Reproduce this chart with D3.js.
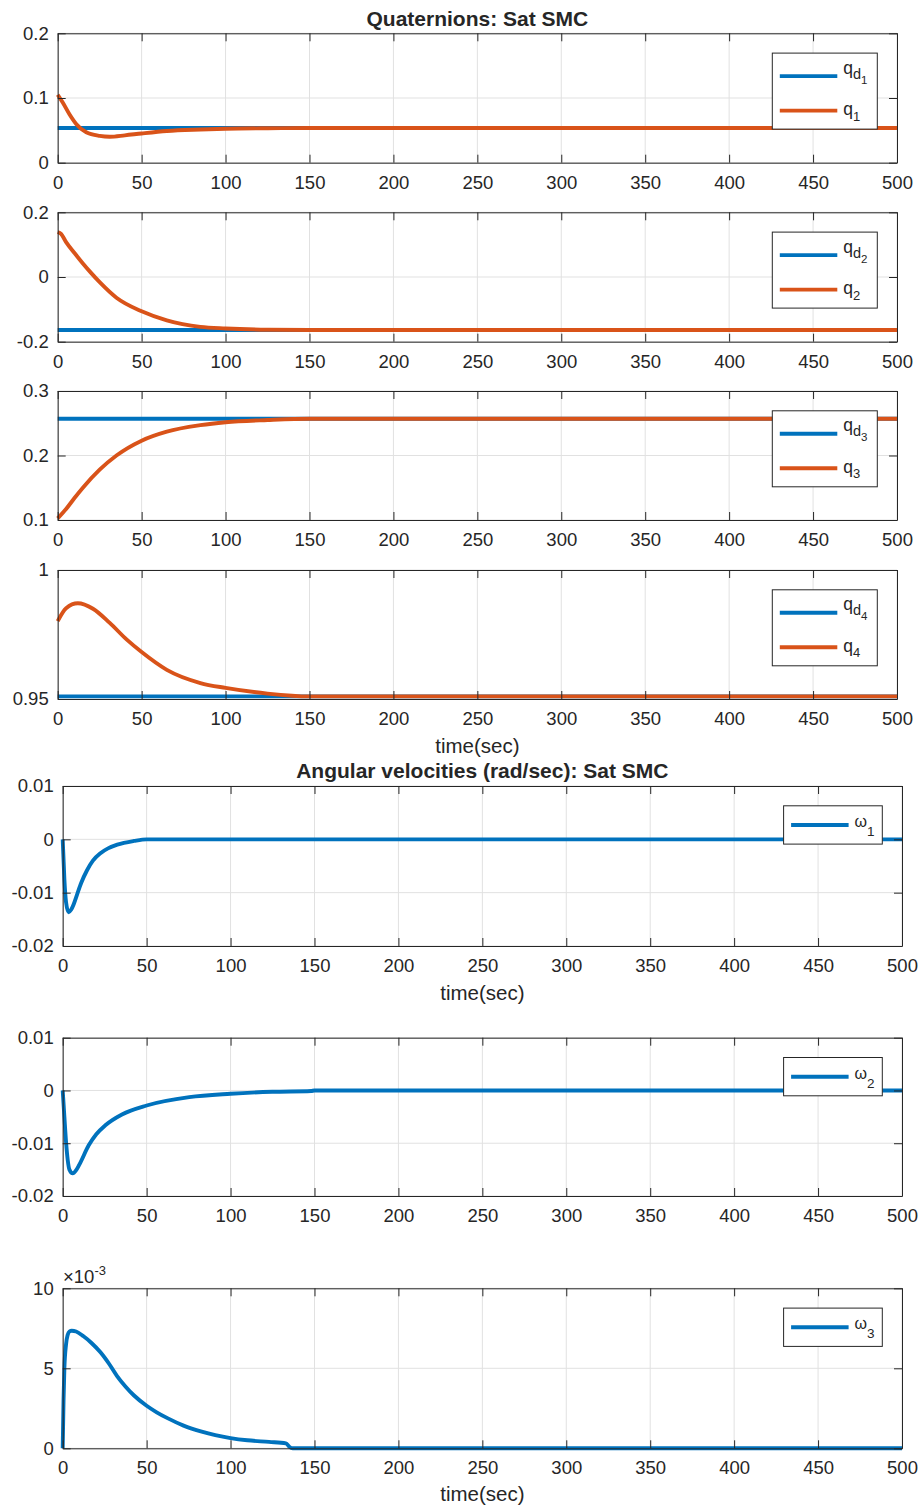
<!DOCTYPE html>
<html>
<head>
<meta charset="utf-8">
<script src="https://cdn.jsdelivr.net/npm/d3@7"></script>
<style>
  body { margin: 0; background: #fff; }
  svg { display: block; }
  text { font-family: "Liberation Sans", Arial, Helvetica, sans-serif; fill: #262626; }
</style>
</head>
<body>
<svg id="fig" width="921" height="1510"></svg>
<script>
// ---------- data ----------
const timeTicks = [0, 50, 100, 150, 200, 250, 300, 350, 400, 450, 500];
const tDesired = [0, 500];

// quaternion 1
const qd1 = [0.0536, 0.0536];
const tQ1 = [0, 3, 7, 11, 17, 25, 31, 40, 50, 65, 85, 100, 125, 150, 500];
const q1  = [0.105, 0.093, 0.075, 0.060, 0.047, 0.0415, 0.0402, 0.0423, 0.0452, 0.049, 0.0513, 0.0525, 0.0533, 0.0536, 0.0536];

// quaternion 2
const qd2 = [-0.164, -0.164];
const tQ2 = [0, 2, 5, 10, 15, 20, 25, 35, 50, 65, 85, 100, 125, 150, 500];
const q2  = [0.139, 0.133, 0.108, 0.074, 0.042, 0.012, -0.016, -0.064, -0.106, -0.134, -0.154, -0.159, -0.163, -0.164, -0.164];

// quaternion 3
const qd3 = [0.257, 0.257];
const tQ3 = [0, 5, 10, 15, 25, 35, 50, 65, 85, 100, 125, 150, 500];
const q3  = [0.1026, 0.117, 0.134, 0.150, 0.178, 0.200, 0.223, 0.237, 0.247, 0.2515, 0.255, 0.257, 0.257];

// quaternion 4 (scalar part)
const qd4 = [0.951, 0.951];
const tQ4 = [0, 5, 12, 21, 31, 41, 50, 65, 85, 100, 125, 150, 500];
const q4  = [0.9802, 0.9852, 0.9871, 0.9850, 0.9795, 0.9731, 0.9682, 0.9613, 0.9562, 0.9543, 0.9521, 0.951, 0.951];

// angular velocities (rad/sec)
const tW1 = [0, 1, 2, 3.5, 5, 6.5, 8.5, 11, 14.5, 18, 22.5, 27, 32.5, 42.5, 50, 500];
const w1  = [0, -0.0075, -0.0118, -0.01366, -0.0132, -0.0122, -0.0104, -0.0082, -0.0058, -0.0040, -0.0026, -0.0017, -0.0010, -0.0003, 0, 0];

const tW2 = [0, 1, 2, 3, 4, 6, 8, 10, 15.5, 20, 25.4, 35.3, 50, 75.4, 100, 124.8, 148, 150, 500];
const w2  = [0, -0.005, -0.0098, -0.0132, -0.0150, -0.0157, -0.0151, -0.0140, -0.0104, -0.0083, -0.0066, -0.00455, -0.00285, -0.00127, -0.00063, -0.00025, -0.0001, 0, 0];

const tW3 = [0, 0.5, 1, 2, 3, 4, 5.4, 8, 12.4, 17, 22.5, 27.5, 32.5, 37.5, 42.5, 50, 56, 62.7, 72, 82.8, 100, 110, 122.9, 133, 135, 137, 500];
const w3  = [0, 0.0030, 0.0050, 0.0065, 0.0071, 0.0073, 0.00735, 0.0073, 0.0070, 0.0066, 0.0060, 0.0053, 0.0045, 0.00385, 0.0033, 0.00266, 0.00225, 0.00187, 0.00142, 0.00104, 0.00064, 0.0005, 0.0004, 0.00031, 0.0001, 0, 0];

// tick values and their labels
const yTicksQ1 = [0, 0.1, 0.2],        yLabelsQ1 = ["0", "0.1", "0.2"];
const yTicksQ2 = [-0.2, 0, 0.2],       yLabelsQ2 = ["-0.2", "0", "0.2"];
const yTicksQ3 = [0.1, 0.2, 0.3],      yLabelsQ3 = ["0.1", "0.2", "0.3"];
const yTicksQ4 = [0.95, 1],            yLabelsQ4 = ["0.95", "1"];
const yTicksW  = [-0.02, -0.01, 0, 0.01], yLabelsW = ["-0.02", "-0.01", "0", "0.01"];
const yTicksW3 = [0, 0.005, 0.01],     yLabelsW3 = ["0", "5", "10"];

// ---------- drawing ----------
const BLUE = "#0072BD", ORANGE = "#D95319", AXIS = "#262626", GRID = "#e1e1e1";
const TICK_FS = 18.5, LABEL_FS = 20.5, TITLE_FS = 21, LEG_FS = 17.5;
const LINE_W = 3.9;
const svg = d3.select("#fig");

function zip(ts, vs) { return ts.map((t, i) => [t, vs[i]]); }

function drawPanel(p) {
  const x = d3.scaleLinear().domain([0, 500]).range([p.left, p.right]);
  const y = d3.scaleLinear().domain(p.yDomain).range([p.bottom, p.top]);
  const g = svg.append("g");

  // grid
  g.append("g").selectAll("line").data(timeTicks).join("line")
    .attr("x1", d => x(d)).attr("x2", d => x(d))
    .attr("y1", p.top).attr("y2", p.bottom)
    .attr("stroke", GRID).attr("stroke-width", 1);
  g.append("g").selectAll("line").data(p.yTicks).join("line")
    .attr("y1", d => y(d)).attr("y2", d => y(d))
    .attr("x1", p.left).attr("x2", p.right)
    .attr("stroke", GRID).attr("stroke-width", 1);

  // series
  const line = d3.line().x(d => x(d[0])).y(d => y(d[1])).curve(d3.curveMonotoneX);
  p.series.forEach(s => {
    g.append("path").datum(zip(s.t, s.v))
      .attr("d", line).attr("fill", "none")
      .attr("stroke", s.color).attr("stroke-width", LINE_W)
      .attr("stroke-linejoin", "round");
  });

  // axes (ticks pointing inward, box all around)
  const styleAxis = sel => {
    sel.attr("font-size", null).attr("font-family", null);
    sel.select(".domain").attr("stroke", AXIS).attr("stroke-width", 1);
    sel.selectAll(".tick line").attr("stroke", AXIS).attr("stroke-width", 1);
    sel.selectAll(".tick text").style("font-size", TICK_FS + "px").attr("fill", AXIS);
  };
  g.append("g").attr("transform", `translate(0,${p.bottom})`)
    .call(d3.axisBottom(x).tickValues(timeTicks).tickSize(-8).tickSizeOuter(0).tickPadding(13))
    .call(styleAxis);
  g.append("g").attr("transform", `translate(0,${p.top})`)
    .call(d3.axisTop(x).tickValues(timeTicks).tickSize(-8).tickSizeOuter(0).tickFormat(""))
    .call(styleAxis);
  g.append("g").attr("transform", `translate(${p.left},0)`)
    .call(d3.axisLeft(y).tickValues(p.yTicks).tickSize(-8).tickSizeOuter(0).tickPadding(9)
      .tickFormat((d, i) => p.yLabels[i]))
    .call(styleAxis);
  g.append("g").attr("transform", `translate(${p.right},0)`)
    .call(d3.axisRight(y).tickValues(p.yTicks).tickSize(-8).tickSizeOuter(0).tickFormat(""))
    .call(styleAxis);

  // legend
  const L = p.legend;
  const lx = p.right - 19.7 - L.width, ly = p.top + 19.8;
  const lg = g.append("g");
  lg.append("rect").attr("x", lx).attr("y", ly).attr("width", L.width).attr("height", L.height)
    .attr("fill", "#fff").attr("stroke", AXIS).attr("stroke-width", 1);
  L.entries.forEach(e => {
    const yy = ly + e.dy;
    lg.append("line").attr("x1", lx + 7.5).attr("x2", lx + 65).attr("y1", yy).attr("y2", yy)
      .attr("stroke", e.color).attr("stroke-width", LINE_W);
    const tx = lg.append("text").attr("x", lx + 71).attr("y", yy + e.baseline);
    e.parts.forEach(pt => {
      tx.append("tspan").text(pt.s).attr("dy", pt.dy || 0).style("font-size", pt.fs + "px");
    });
  });

  return { x, y };
}

const qLeft = 57.7, qRight = 897;
const wLeft = 62.7, wRight = 902;

function qLegend(n) {
  return {
    width: 105, height: 76,
    entries: [
      { color: BLUE, dy: 23, baseline: -2.5,
        parts: [{ s: "q", fs: LEG_FS }, { s: "d", fs: 14.5, dy: 5 }, { s: String(n), fs: 11.5, dy: 5 }] },
      { color: ORANGE, dy: 57.5, baseline: 4.5,
        parts: [{ s: "q", fs: LEG_FS }, { s: String(n), fs: 13, dy: 5.5 }] }
    ]
  };
}
function wLegend(n) {
  return {
    width: 98.7, height: 38.3,
    entries: [
      { color: BLUE, dy: 19.2, baseline: 2,
        parts: [{ s: "ω", fs: 16 }, { s: String(n), fs: 13.5, dy: 9 }] }
    ]
  };
}

const panels = [
  { left: qLeft, right: qRight, top: 33.3, bottom: 162.7, yDomain: [0, 0.2], yTicks: yTicksQ1, yLabels: yLabelsQ1,
    series: [{ t: tDesired, v: qd1, color: BLUE }, { t: tQ1, v: q1, color: ORANGE }], legend: qLegend(1) },
  { left: qLeft, right: qRight, top: 212.3, bottom: 341.7, yDomain: [-0.2, 0.2], yTicks: yTicksQ2, yLabels: yLabelsQ2,
    series: [{ t: tDesired, v: qd2, color: BLUE }, { t: tQ2, v: q2, color: ORANGE }], legend: qLegend(2) },
  { left: qLeft, right: qRight, top: 391, bottom: 520, yDomain: [0.1, 0.3], yTicks: yTicksQ3, yLabels: yLabelsQ3,
    series: [{ t: tDesired, v: qd3, color: BLUE }, { t: tQ3, v: q3, color: ORANGE }], legend: qLegend(3) },
  { left: qLeft, right: qRight, top: 570, bottom: 699, yDomain: [0.95, 1], yTicks: yTicksQ4, yLabels: yLabelsQ4,
    series: [{ t: tDesired, v: qd4, color: BLUE }, { t: tQ4, v: q4, color: ORANGE }], legend: qLegend(4) },
  { left: wLeft, right: wRight, top: 786, bottom: 946, yDomain: [-0.02, 0.01], yTicks: yTicksW, yLabels: yLabelsW,
    series: [{ t: tW1, v: w1, color: BLUE }], legend: wLegend(1) },
  { left: wLeft, right: wRight, top: 1037.7, bottom: 1196, yDomain: [-0.02, 0.01], yTicks: yTicksW, yLabels: yLabelsW,
    series: [{ t: tW2, v: w2, color: BLUE }], legend: wLegend(2) },
  { left: wLeft, right: wRight, top: 1288.3, bottom: 1448.3, yDomain: [0, 0.01], yTicks: yTicksW3, yLabels: yLabelsW3,
    series: [{ t: tW3, v: w3, color: BLUE }], legend: wLegend(3) }
];

panels.forEach(drawPanel);

// titles and axis labels
function title(txt, cx, yb) {
  svg.append("text").attr("x", cx).attr("y", yb).attr("text-anchor", "middle")
    .style("font-size", TITLE_FS + "px").style("font-weight", "bold").attr("fill", "#000").text(txt);
}
function xlabel(cx, yb) {
  svg.append("text").attr("x", cx).attr("y", yb).attr("text-anchor", "middle")
    .style("font-size", LABEL_FS + "px").text("time(sec)");
}
title("Quaternions: Sat SMC", (qLeft + qRight) / 2, 25.5);
xlabel((qLeft + qRight) / 2, 752.5);
title("Angular velocities (rad/sec): Sat SMC", (wLeft + wRight) / 2, 777.5);
xlabel((wLeft + wRight) / 2, 1000);
xlabel((wLeft + wRight) / 2, 1500.5);

// exponent marker for the third angular velocity axis
const expo = svg.append("text").attr("x", 63).attr("y", 1283).style("font-size", TICK_FS + "px");
expo.append("tspan").text("×10");
expo.append("tspan").text("-3").attr("dy", -8).style("font-size", "13px");
</script>
</body>
</html>
